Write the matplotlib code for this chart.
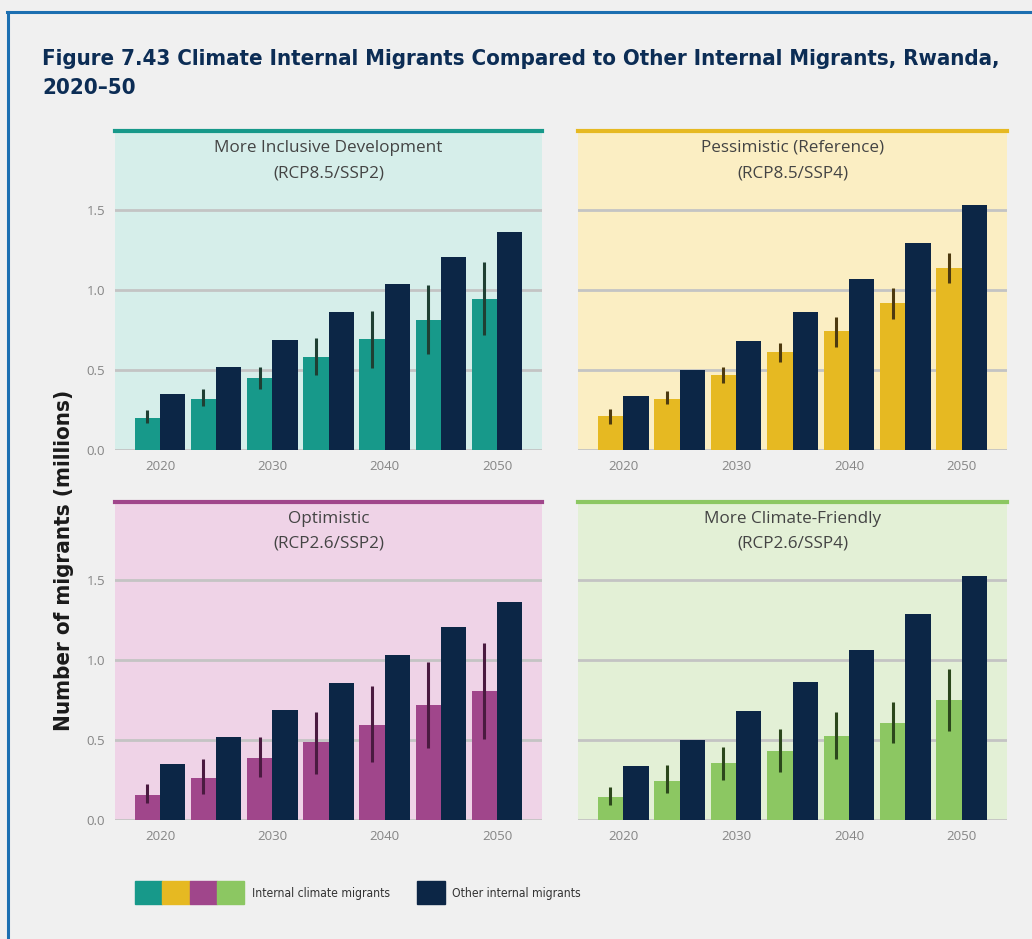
import matplotlib
matplotlib.use('Agg')
import matplotlib.pyplot as plt
from matplotlib.patches import Rectangle
from matplotlib.lines import Line2D
import numpy as np

years = [2020, 2025, 2030, 2035, 2040, 2045, 2050]
tick_years = [2020, 2030, 2040, 2050]

# climate migrants (millions) with low / high range per scenario
incl_climate = [0.20, 0.32, 0.45, 0.58, 0.69, 0.81, 0.94]
incl_low = [0.17, 0.275, 0.38, 0.47, 0.51, 0.60, 0.72]
incl_high = [0.25, 0.38, 0.52, 0.70, 0.87, 1.03, 1.17]

pess_climate = [0.21, 0.32, 0.47, 0.61, 0.74, 0.92, 1.135]
pess_low = [0.163, 0.285, 0.42, 0.55, 0.645, 0.815, 1.04]
pess_high = [0.255, 0.365, 0.52, 0.67, 0.83, 1.01, 1.23]

opt_climate = [0.156, 0.265, 0.39, 0.485, 0.594, 0.72, 0.81]
opt_low = [0.104, 0.16, 0.27, 0.29, 0.365, 0.45, 0.51]
opt_high = [0.225, 0.38, 0.517, 0.677, 0.837, 0.99, 1.11]

friendly_climate = [0.146, 0.246, 0.354, 0.433, 0.525, 0.604, 0.75]
friendly_low = [0.094, 0.167, 0.25, 0.302, 0.379, 0.479, 0.558]
friendly_high = [0.208, 0.344, 0.458, 0.567, 0.677, 0.74, 0.948]

# other internal migrants depend only on the SSP
other_ssp2 = [0.352, 0.518, 0.686, 0.86, 1.035, 1.205, 1.363]
other_ssp4 = [0.335, 0.502, 0.68, 0.863, 1.066, 1.289, 1.526]

NAVY = '#0c2646'
GRID = '#c4c4c4'
BG = '#f0f0f0'

panels = [
    # title lines, climate, low, high, other, bar, dark, bg, pixel box, y labels
    (('More Inclusive Development', '(RCP8.5/SSP2)'), incl_climate, incl_low, incl_high, other_ssp2,
     '#17998a', '#1f3f33', '#d6eeea', [115, 131, 542, 450], True),
    (('Pessimistic (Reference)', '(RCP8.5/SSP4)'), pess_climate, pess_low, pess_high, other_ssp4,
     '#e6b922', '#4d3a10', '#fbeec3', [578, 131, 1007, 450], False),
    (('Optimistic', '(RCP2.6/SSP2)'), opt_climate, opt_low, opt_high, other_ssp2,
     '#a0468b', '#4a1a40', '#efd3e7', [115, 502, 542, 820], True),
    (('More Climate-Friendly', '(RCP2.6/SSP4)'), friendly_climate, friendly_low, friendly_high, other_ssp4,
     '#8cc762', '#2c471c', '#e3f0d6', [578, 502, 1007, 820], False),
]

W, H = 1032, 939
fig = plt.figure(figsize=(W / 100, H / 100), dpi=100, facecolor=BG)

bw = 2.25
x = np.array(years)

for (t1, t2), clim, low, high, other, col, dark, bg, (x0, y0, x1, y1), show_y in panels:
    ax = fig.add_axes([x0 / W, 1 - y1 / H, (x1 - x0) / W, (y1 - y0) / H])
    ax.set_facecolor(bg)
    ax.set_xlim(2016, 2054)
    ax.set_ylim(0, 1.99)
    for v in [0.0, 0.5, 1.0, 1.5]:
        ax.axhline(v, color=GRID, lw=2, zorder=0)

    ax.bar(x - bw / 2, clim, bw, color=col, zorder=2)
    ax.bar(x + bw / 2, other, bw, color=NAVY, zorder=2)
    ax.vlines(x - bw / 2, low, high, color=dark, lw=2.2, zorder=3)

    for s in ['left', 'right', 'bottom']:
        ax.spines[s].set_visible(False)
    ax.spines['top'].set_color(col)
    ax.spines['top'].set_linewidth(3)

    ax.set_xticks(tick_years)
    ax.set_xticklabels([str(t) for t in tick_years])
    ax.set_yticks([0.0, 0.5, 1.0, 1.5])
    ax.set_yticklabels(['0.0', '0.5', '1.0', '1.5'] if show_y else [])
    ax.tick_params(length=0, labelsize=9.5, labelcolor='#858585', pad=7)
    for lab in ax.get_xticklabels() + ax.get_yticklabels():
        lab.set_family('Open Sans')

    h = y1 - y0
    ax.text(0.5, 1 - 17 / h, t1, transform=ax.transAxes, ha='center', va='center',
            fontsize=12.3, color='#444444', family='Open Sans')
    ax.text(0.5, 1 - 42 / h, t2, transform=ax.transAxes, ha='center', va='center',
            fontsize=12.3, color='#444444', family='Open Sans')

# figure title, heavy condensed face
TITLE_KW = dict(ha='left', va='baseline', fontsize=15.9, fontweight='bold', color='#0c2d55',
                family='DejaVu Sans', fontstretch='condensed')
fig.text(42 / W, 1 - 65 / H,
         'Figure 7.43 Climate Internal Migrants Compared to Other Internal Migrants, Rwanda,',
         **TITLE_KW)
fig.text(42 / W, 1 - 94 / H, '2020\u201350', **TITLE_KW)

# shared y label
fig.text(64 / W, 1 - 560 / H, 'Number of migrants (millions)', rotation=90,
         ha='center', va='center', fontsize=16, fontweight='bold', color='#1a1a1a',
         family='DejaVu Sans', fontstretch='condensed')

# legend
leg_cols = ['#17998a', '#e6b922', '#a0468b', '#8cc762']
for i, c in enumerate(leg_cols):
    fig.patches.append(Rectangle(((135 + 27.3 * i) / W, 1 - 904 / H), 27.3 / W, 23 / H,
                                 transform=fig.transFigure, color=c))
fig.patches.append(Rectangle((417 / W, 1 - 904 / H), 28 / W, 23 / H,
                             transform=fig.transFigure, color=NAVY))
LEG_KW = dict(ha='left', va='center', fontsize=8.7, color='#333333',
              family='DejaVu Sans', fontstretch='condensed')
fig.text(252 / W, 1 - 893 / H, 'Internal climate migrants', **LEG_KW)
fig.text(452 / W, 1 - 893 / H, 'Other internal migrants', **LEG_KW)

# blue frame on top and left
fig.lines.append(Line2D([7 / W, 1], [1 - 12 / H, 1 - 12 / H], transform=fig.transFigure,
                        color='#1c6fb1', lw=2.2))
fig.lines.append(Line2D([8 / W, 8 / W], [0, 1 - 12 / H], transform=fig.transFigure,
                        color='#1c6fb1', lw=2.2))

fig.savefig('out.png', dpi=100, facecolor=BG)
